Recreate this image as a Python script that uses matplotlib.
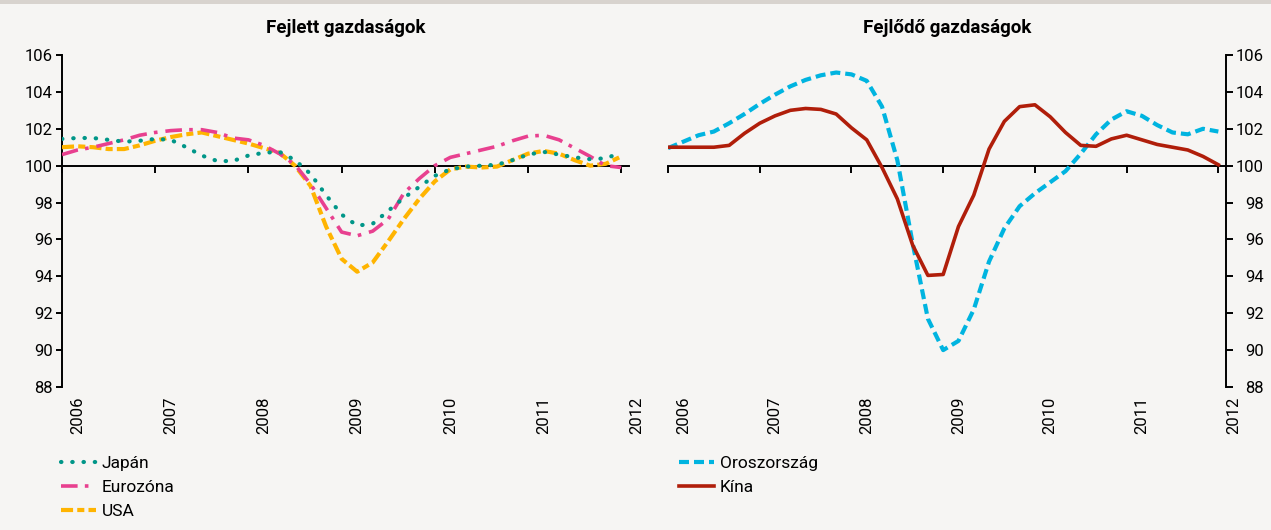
import numpy as np
import matplotlib
matplotlib.use("Agg")
import matplotlib.pyplot as plt
from matplotlib.transforms import blended_transform_factory, ScaledTranslation

plt.rcParams["font.family"] = ["Roboto", "DejaVu Sans"]

# months since January 2006, sampled every second month
months = np.arange(0, 73, 2)
years = ["2006", "2007", "2008", "2009", "2010", "2011", "2012"]
year_ticks = [0, 12, 24, 36, 48, 60, 72]

# Fejlett gazdaságok
japan = [101.45, 101.5, 101.5, 101.4, 101.3, 101.35, 101.45, 101.4, 101.0, 100.55,
         100.25, 100.25, 100.55, 100.7, 100.75, 100.3, 99.55, 98.4, 97.35, 96.75,
         96.85, 97.55, 98.25, 98.85, 99.45, 99.8, 99.95, 100.0, 100.05, 100.3,
         100.6, 100.75, 100.6, 100.45, 100.35, 100.4, 100.7]
eurozone = [100.6, 100.85, 101.0, 101.2, 101.4, 101.65, 101.8, 101.9, 101.95, 101.95,
            101.8, 101.5, 101.4, 101.1, 100.65, 100.05, 99.0, 97.7, 96.4, 96.2,
            96.45, 97.1, 98.5, 99.3, 100.0, 100.45, 100.65, 100.85, 101.05, 101.35,
            101.6, 101.65, 101.4, 100.95, 100.5, 100.0, 99.9]
usa = [101.0, 101.05, 101.0, 100.9, 100.9, 101.1, 101.35, 101.55, 101.7, 101.8,
       101.6, 101.4, 101.2, 100.95, 100.7, 100.0, 98.9, 96.7, 94.95, 94.25,
       94.75, 95.9, 97.1, 98.2, 99.15, 99.8, 99.95, 99.9, 99.95, 100.3,
       100.65, 100.8, 100.65, 100.3, 100.0, 100.1, 100.5]

# Fejlődő gazdaságok
russia = [100.95, 101.3, 101.65, 101.85, 102.3, 102.8, 103.35, 103.85, 104.3, 104.65,
          104.9, 105.05, 104.95, 104.6, 103.2, 100.3, 95.8, 91.7, 90.0, 90.5,
          92.2, 94.8, 96.6, 97.8, 98.5, 99.1, 99.7, 100.65, 101.7, 102.5,
          102.95, 102.7, 102.2, 101.8, 101.7, 102.0, 101.85]
china = [101.0, 101.0, 101.0, 101.0, 101.1, 101.75, 102.3, 102.7, 103.0, 103.1,
         103.05, 102.8, 102.05, 101.4, 99.9, 98.2, 95.7, 94.05, 94.1, 96.7,
         98.4, 100.9, 102.4, 103.2, 103.3, 102.65, 101.8, 101.1, 101.05, 101.45,
         101.65, 101.4, 101.15, 101.0, 100.85, 100.5, 100.05]

BG = "#f6f5f3"
W, H = 1271, 530
fig = plt.figure(figsize=(W / 100, H / 100), dpi=100, facecolor=BG)
fig.add_artist(plt.Rectangle((0, 1 - 4 / H), 1, 4 / H, transform=fig.transFigure,
                             color="#d8d3ce", lw=0))


def px_axes(x0, x1, ytop, ybot):
    return fig.add_axes([x0 / W, 1 - ybot / H, (x1 - x0) / W, (ybot - ytop) / H])


ax1 = px_axes(62, 629, 55, 387)
ax2 = px_axes(668, 1226, 55, 387)

for ax in (ax1, ax2):
    ax.patch.set_alpha(0)
    ax.set_xlim(0, 73)
    ax.set_ylim(88, 106)
    ax.set_yticks(np.arange(88, 107, 2))
    ax.set_xticks(year_ticks)
    ax.spines["top"].set_visible(False)
    ax.spines["bottom"].set_position(("data", 100))
    for sp in ax.spines.values():
        sp.set_linewidth(1.4)
        sp.set_color("black")
    ax.tick_params(axis="x", direction="out", length=4.8, width=1.4, labelbottom=False)
    ax.tick_params(axis="y", direction="out", length=4.5, width=1.4, labelsize=12,
                   colors="black")
    trans = (blended_transform_factory(ax.transData, ax.transAxes)
             + ScaledTranslation(0, -10 / 100, fig.dpi_scale_trans))
    for pos, lab in zip(year_ticks, years):
        ax.text(pos + 2, 0, lab, rotation=90, ha="center", va="top", fontsize=12,
                transform=trans)

ax1.spines["right"].set_visible(False)
ax1.tick_params(axis="y", pad=2)

ax2.spines["left"].set_visible(False)
ax2.yaxis.tick_right()
ax2.tick_params(axis="y", length=5, pad=22)
for lab in ax2.get_yticklabels():
    lab.set_horizontalalignment("right")

h_us, = ax1.plot(months, usa, color="#ffb400", lw=3, ls=(0, (2.9, 1.0, 1.7, 1.0)),
                 dash_capstyle="butt", zorder=3)
h_ez, = ax1.plot(months, eurozone, color="#e8408f", lw=2.6,
                 ls=(0, (4.6, 2.0, 1.0, 2.2)), dash_capstyle="butt", zorder=3)
h_jp, = ax1.plot(months, japan, color="#009688", lw=3, ls=(0, (0.1, 2.6)),
                 dash_capstyle="round", zorder=3)

h_ru, = ax2.plot(months, russia, color="#00b4e0", lw=3, ls=(0, (2.4, 1.2)),
                 dash_capstyle="butt", zorder=3)
h_cn, = ax2.plot(months, china, color="#b01e0a", lw=2.6, zorder=3)

leg_kw = dict(loc="upper left", bbox_transform=fig.transFigure, frameon=False,
              fontsize=12.5, handlelength=2.0, handletextpad=0.35, labelspacing=0.5,
              borderpad=0, borderaxespad=0)
ax1.legend([h_jp, h_ez, h_us], ["Japán", "Eurozóna", "USA"],
           bbox_to_anchor=(61 / W, 1 - 456 / H), **leg_kw)
ax2.legend([h_ru, h_cn], ["Oroszország", "Kína"],
           bbox_to_anchor=(679 / W, 1 - 456 / H), **leg_kw)

fig.text(345.5 / W, 1 - 28 / H, "Fejlett gazdaságok", ha="center", va="center",
         fontsize=13.5, fontweight="bold")
fig.text(947 / W, 1 - 28 / H, "Fejlődő gazdaságok", ha="center", va="center",
         fontsize=13.5, fontweight="bold")

fig.savefig("out.png", dpi=100, facecolor=BG)
